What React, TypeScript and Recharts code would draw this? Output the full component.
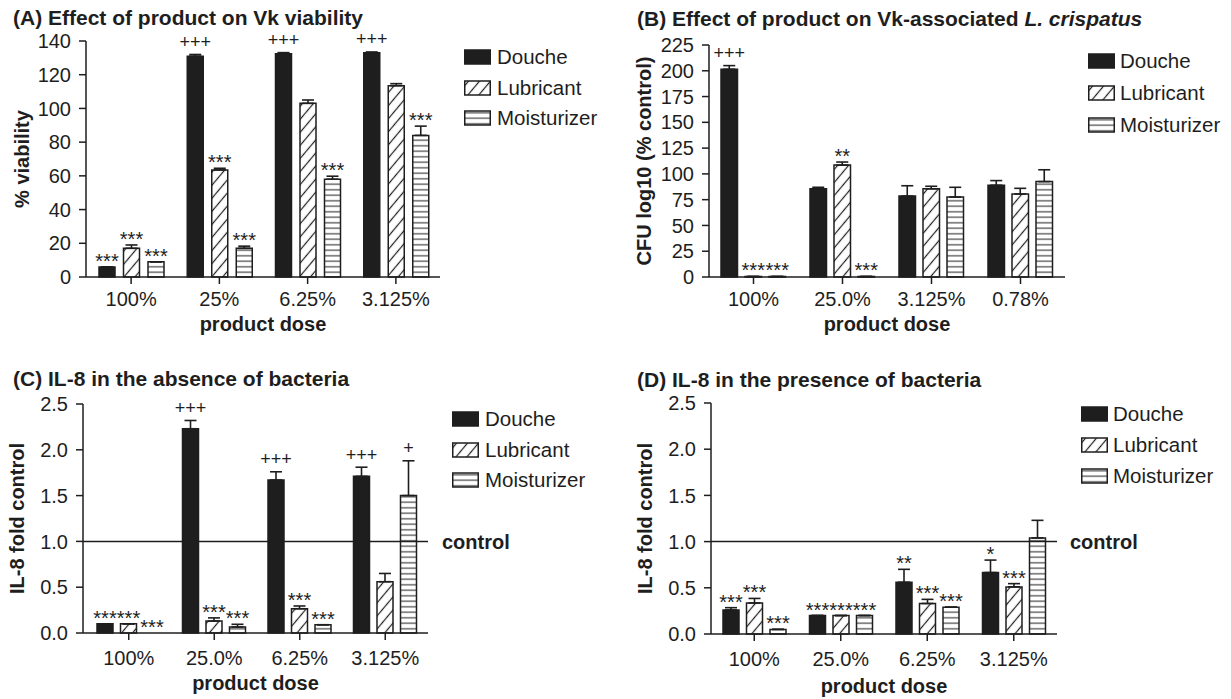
import React from 'react';
import { BarChart, Bar, XAxis, YAxis, ErrorBar, LabelList, ReferenceLine } from 'recharts';

const FONT = '"Liberation Sans", Arial, Helvetica, sans-serif';
const INK = '#1e1e1e';

// ---------- Data ----------
const seriesNames = ['Douche', 'Lubricant', 'Moisturizer'];

// (A) Effect of product on Vk viability
const categoriesA = ['100%', '25%', '6.25%', '3.125%'];
const doucheA = [6, 131, 132.5, 133];
const doucheErrA = [0, 1, 0.6, 0.5];
const lubricantA = [17, 63.5, 103, 113.5];
const lubricantErrA = [2, 1, 2, 1.2];
const moisturizerA = [9, 17, 58, 84];
const moisturizerErrA = [0, 1.3, 1.8, 5.5];
const doucheSigA = ['***', '+++', '+++', '+++'];
const lubricantSigA = ['***', '***', '', ''];
const moisturizerSigA = ['***', '***', '***', '***'];
const ticksA = [0, 20, 40, 60, 80, 100, 120, 140];

// (B) Effect of product on Vk-associated L. crispatus
const categoriesB = ['100%', '25.0%', '3.125%', '0.78%'];
const doucheB = [201.5, 85.5, 78.5, 89];
const doucheErrB = [3.5, 1.5, 10, 4.5];
const lubricantB = [0.5, 108.5, 85.5, 80.5];
const lubricantErrB = [0, 3, 2.5, 5.5];
const moisturizerB = [0.5, 0.5, 77.5, 92.5];
const moisturizerErrB = [0, 0, 9.5, 11.5];
const doucheSigB = ['+++', '', '', ''];
const lubricantSigB = ['***', '**', '', ''];
const moisturizerSigB = ['***', '***', '', ''];
const ticksB = [0, 25, 50, 75, 100, 125, 150, 175, 200, 225];

// (C) IL-8 in the absence of bacteria
const categoriesC = ['100%', '25.0%', '6.25%', '3.125%'];
const doucheC = [0.1, 2.23, 1.67, 1.71];
const doucheErrC = [0, 0.09, 0.09, 0.1];
const lubricantC = [0.1, 0.13, 0.265, 0.56];
const lubricantErrC = [0, 0.035, 0.03, 0.09];
const moisturizerC = [0, 0.065, 0.09, 1.5];
const moisturizerErrC = [0, 0.03, 0, 0.38];
const doucheSigC = ['***', '+++', '+++', '+++'];
const lubricantSigC = ['***', '***', '***', ''];
const moisturizerSigC = ['***', '***', '***', '+'];

// (D) IL-8 in the presence of bacteria
const categoriesD = ['100%', '25.0%', '6.25%', '3.125%'];
const doucheD = [0.26, 0.2, 0.56, 0.665];
const doucheErrD = [0.025, 0, 0.14, 0.135];
const lubricantD = [0.335, 0.2, 0.33, 0.51];
const lubricantErrD = [0.05, 0, 0.045, 0.035];
const moisturizerD = [0.05, 0.2, 0.29, 1.04];
const moisturizerErrD = [0, 0, 0, 0.19];
const doucheSigD = ['***', '***', '**', '*'];
const lubricantSigD = ['***', '***', '***', '***'];
const moisturizerSigD = ['***', '***', '***', ''];

const ticksIL8 = [0, 0.5, 1, 1.5, 2, 2.5];
const controlLevel = 1;

// ---------- Helpers ----------
const KEYS = ['d', 'l', 'm'];
const FILLS = [INK, 'url(#hatchDiag)', 'url(#hatchHoriz)'];
const TINY = 1e-4;

function buildRows(cats: string[], vals: number[][], errs: number[][], sigs: string[][]) {
  return cats.map((c, i) => {
    const row: any = { cat: c };
    KEYS.forEach((k, s) => {
      row[k] = vals[s][i];
      row[k + 'E'] = [0, errs[s][i]];
      // invisible segment that carries the significance label on top of the error bar
      row[k + 'T'] = errs[s][i] > 0 ? errs[s][i] : TINY;
      row[k + 'A'] = sigs[s][i];
    });
    return row;
  });
}

const rowsA = buildRows(categoriesA, [doucheA, lubricantA, moisturizerA], [doucheErrA, lubricantErrA, moisturizerErrA], [doucheSigA, lubricantSigA, moisturizerSigA]);
const rowsB = buildRows(categoriesB, [doucheB, lubricantB, moisturizerB], [doucheErrB, lubricantErrB, moisturizerErrB], [doucheSigB, lubricantSigB, moisturizerSigB]);
const rowsC = buildRows(categoriesC, [doucheC, lubricantC, moisturizerC], [doucheErrC, lubricantErrC, moisturizerErrC], [doucheSigC, lubricantSigC, moisturizerSigC]);
const rowsD = buildRows(categoriesD, [doucheD, lubricantD, moisturizerD], [doucheErrD, lubricantErrD, moisturizerErrD], [doucheSigD, lubricantSigD, moisturizerSigD]);

const renderSig = (props: any) => {
  const vb = props.viewBox && props.viewBox.width !== undefined ? props.viewBox : props;
  const value = props.value;
  if (!value) return null;
  const plus = String(value).startsWith('+');
  const x = Number(vb.x) + Number(vb.width) / 2;
  const y = Number(vb.y) - (plus ? 6.5 : -1);
  return (
    <text key={`${x}-${y}`} x={x} y={y} textAnchor="middle" fontSize={plus ? 18 : 20} fill={INK} fontFamily={FONT}>
      {value}
    </text>
  );
};

type Cfg = {
  left: number; top: number; width: number; height: number;
  margin: { top: number; right: number; bottom: number; left: number };
  yWidth: number; domain: [number, number]; ticks: number[]; fmt: (v: number) => string;
  yLabel: string; yLabelOffset: number; xTickMargin: number; xLabelOffset: number;
  barSize: number; barGap: number; xPad: { left: number; right: number };
  control?: boolean; controlOffset?: number;
};

function Panel({ cfg, rows }: { cfg: Cfg; rows: any[] }) {
  const bars: any[] = [];
  KEYS.forEach((k, s) => {
    bars.push(
      <Bar key={k} dataKey={k} name={seriesNames[s]} stackId={k} fill={FILLS[s]} stroke={INK} strokeWidth={1.5} isAnimationActive={false}>
        <ErrorBar dataKey={k + 'E'} width={6} stroke={INK} strokeWidth={1.6} direction="y" />
      </Bar>
    );
    bars.push(
      <Bar key={k + 'T'} dataKey={k + 'T'} stackId={k} fill="none" stroke="none" isAnimationActive={false} legendType="none">
        <LabelList dataKey={k + 'A'} content={renderSig} />
      </Bar>
    );
  });
  return (
    <div style={{ position: 'absolute', left: cfg.left, top: cfg.top }}>
      <BarChart width={cfg.width} height={cfg.height} data={rows} margin={cfg.margin} barSize={cfg.barSize} barGap={cfg.barGap}>
        <XAxis
          dataKey="cat"
          height={60}
          interval={0}
          padding={cfg.xPad}
          tickSize={7}
          tickMargin={cfg.xTickMargin}
          axisLine={{ stroke: INK, strokeWidth: 1.5 }}
          tickLine={{ stroke: INK, strokeWidth: 1.5 }}
          tick={{ fill: INK, fontSize: 20, fontFamily: FONT }}
          label={{ value: 'product dose', position: 'insideBottom', offset: cfg.xLabelOffset, style: { fontWeight: 'bold', fontSize: 20, fill: INK, fontFamily: FONT } }}
        />
        <YAxis
          width={cfg.yWidth}
          domain={cfg.domain}
          ticks={cfg.ticks}
          interval={0}
          tickFormatter={cfg.fmt}
          tickSize={7}
          tickMargin={8}
          axisLine={{ stroke: INK, strokeWidth: 1.5 }}
          tickLine={{ stroke: INK, strokeWidth: 1.5 }}
          tick={{ fill: INK, fontSize: 20, fontFamily: FONT }}
          label={{ value: cfg.yLabel, angle: -90, position: 'insideLeft', offset: cfg.yLabelOffset, style: { textAnchor: 'middle', fontWeight: 'bold', fontSize: 20, fill: INK, fontFamily: FONT } }}
        />
        {cfg.control ? (
          <ReferenceLine
            y={controlLevel}
            stroke={INK}
            strokeWidth={1.5}
            label={{ value: 'control', position: 'right', offset: cfg.controlOffset, fill: INK, fontSize: 20, fontWeight: 'bold', fontFamily: FONT }}
          />
        ) : null}
        {bars}
      </BarChart>
    </div>
  );
}

function Legend({ x, y0, gap, textX }: { x: number; y0: number; gap: number; textX: number }) {
  return (
    <>
      {seriesNames.map((name, i) => (
        <div key={name} style={{ position: 'absolute', left: x, top: y0 + i * gap - 12, height: 24, display: 'flex', alignItems: 'center', whiteSpace: 'nowrap' }}>
          <svg width={27} height={16} style={{ display: 'block' }}>
            <rect x={0.75} y={1} width={25.5} height={14} fill={FILLS[i]} stroke={INK} strokeWidth={1.5} />
          </svg>
          <span style={{ marginLeft: textX - x - 27, fontSize: 20.5, lineHeight: '24px', color: INK }}>{name}</span>
        </div>
      ))}
    </>
  );
}

const titleStyle: React.CSSProperties = { position: 'absolute', fontSize: 21, fontWeight: 'bold', lineHeight: '21px', whiteSpace: 'nowrap', color: INK };

const fmtInt = (v: number) => String(v);
const fmt1 = (v: number) => v.toFixed(1);

const cfgA: Cfg = {
  left: 0, top: 0, width: 620, height: 340,
  margin: { top: 41, right: 180, bottom: 3, left: 0 },
  yWidth: 86, domain: [0, 140], ticks: ticksA, fmt: fmtInt,
  yLabel: '% viability', yLabelOffset: 22, xTickMargin: 8, xLabelOffset: 6,
  barSize: 16, barGap: 8.5, xPad: { left: 1, right: 0 },
};
const cfgB: Cfg = {
  left: 620, top: 0, width: 611, height: 340,
  margin: { top: 45, right: 166, bottom: 3, left: 0 },
  yWidth: 89, domain: [0, 225], ticks: ticksB, fmt: fmtInt,
  yLabel: 'CFU log10 (% control)', yLabelOffset: 24, xTickMargin: 8, xLabelOffset: 6,
  barSize: 16.5, barGap: 7.5, xPad: { left: 0, right: 0 },
};
const cfgC: Cfg = {
  left: 0, top: 340, width: 620, height: 359,
  margin: { top: 64, right: 192, bottom: 6, left: 0 },
  yWidth: 83, domain: [0, 2.5], ticks: ticksIL8, fmt: fmt1,
  yLabel: 'IL-8 fold control', yLabelOffset: 17, xTickMargin: 10.5, xLabelOffset: 3,
  barSize: 16, barGap: 7.5, xPad: { left: 3, right: 0 },
  control: true, controlOffset: 14,
};
const cfgD: Cfg = {
  left: 620, top: 340, width: 611, height: 359,
  margin: { top: 63, right: 174, bottom: 5, left: 0 },
  yWidth: 91, domain: [0, 2.5], ticks: ticksIL8, fmt: fmt1,
  yLabel: 'IL-8 fold control', yLabelOffset: 25, xTickMargin: 10.5, xLabelOffset: 1,
  barSize: 16, barGap: 7.5, xPad: { left: 0, right: 0 },
  control: true, controlOffset: 13,
};

export default function App() {
  return (
    <div style={{ position: 'absolute', left: 0, top: 0, width: 1231, height: 699, background: '#fff', overflow: 'hidden', fontFamily: FONT, color: INK }}>
      <svg width={0} height={0} style={{ position: 'absolute' }}>
        <defs>
          <pattern id="hatchDiag" patternUnits="userSpaceOnUse" width={12} height={8.4} patternTransform="rotate(-50)">
            <rect width={12} height={8.4} fill="#fff" />
            <line x1={0} y1={4.2} x2={12} y2={4.2} stroke={INK} strokeWidth={1.2} />
          </pattern>
          <pattern id="hatchHoriz" patternUnits="userSpaceOnUse" width={10} height={5.5}>
            <rect width={10} height={5.5} fill="#fff" />
            <line x1={0} y1={2.75} x2={10} y2={2.75} stroke={INK} strokeWidth={1} />
          </pattern>
        </defs>
      </svg>

      <div style={{ ...titleStyle, left: 13, top: 6.5 }}>(A) Effect of product on Vk viability</div>
      <div style={{ ...titleStyle, left: 637, top: 8 }}>
        (B) Effect of product on Vk-associated <i>L. crispatus</i>
      </div>
      <div style={{ ...titleStyle, left: 13, top: 368 }}>(C) IL-8 in the absence of bacteria</div>
      <div style={{ ...titleStyle, left: 637, top: 369 }}>(D) IL-8 in the presence of bacteria</div>

      <Panel cfg={cfgA} rows={rowsA} />
      <Panel cfg={cfgB} rows={rowsB} />
      <Panel cfg={cfgC} rows={rowsC} />
      <Panel cfg={cfgD} rows={rowsD} />

      <Legend x={464} y0={57} gap={30.5} textX={497} />
      <Legend x={1088} y0={61} gap={32} textX={1120} />
      <Legend x={452} y0={419} gap={30.5} textX={485} />
      <Legend x={1081} y0={414} gap={31} textX={1113} />
    </div>
  );
}
